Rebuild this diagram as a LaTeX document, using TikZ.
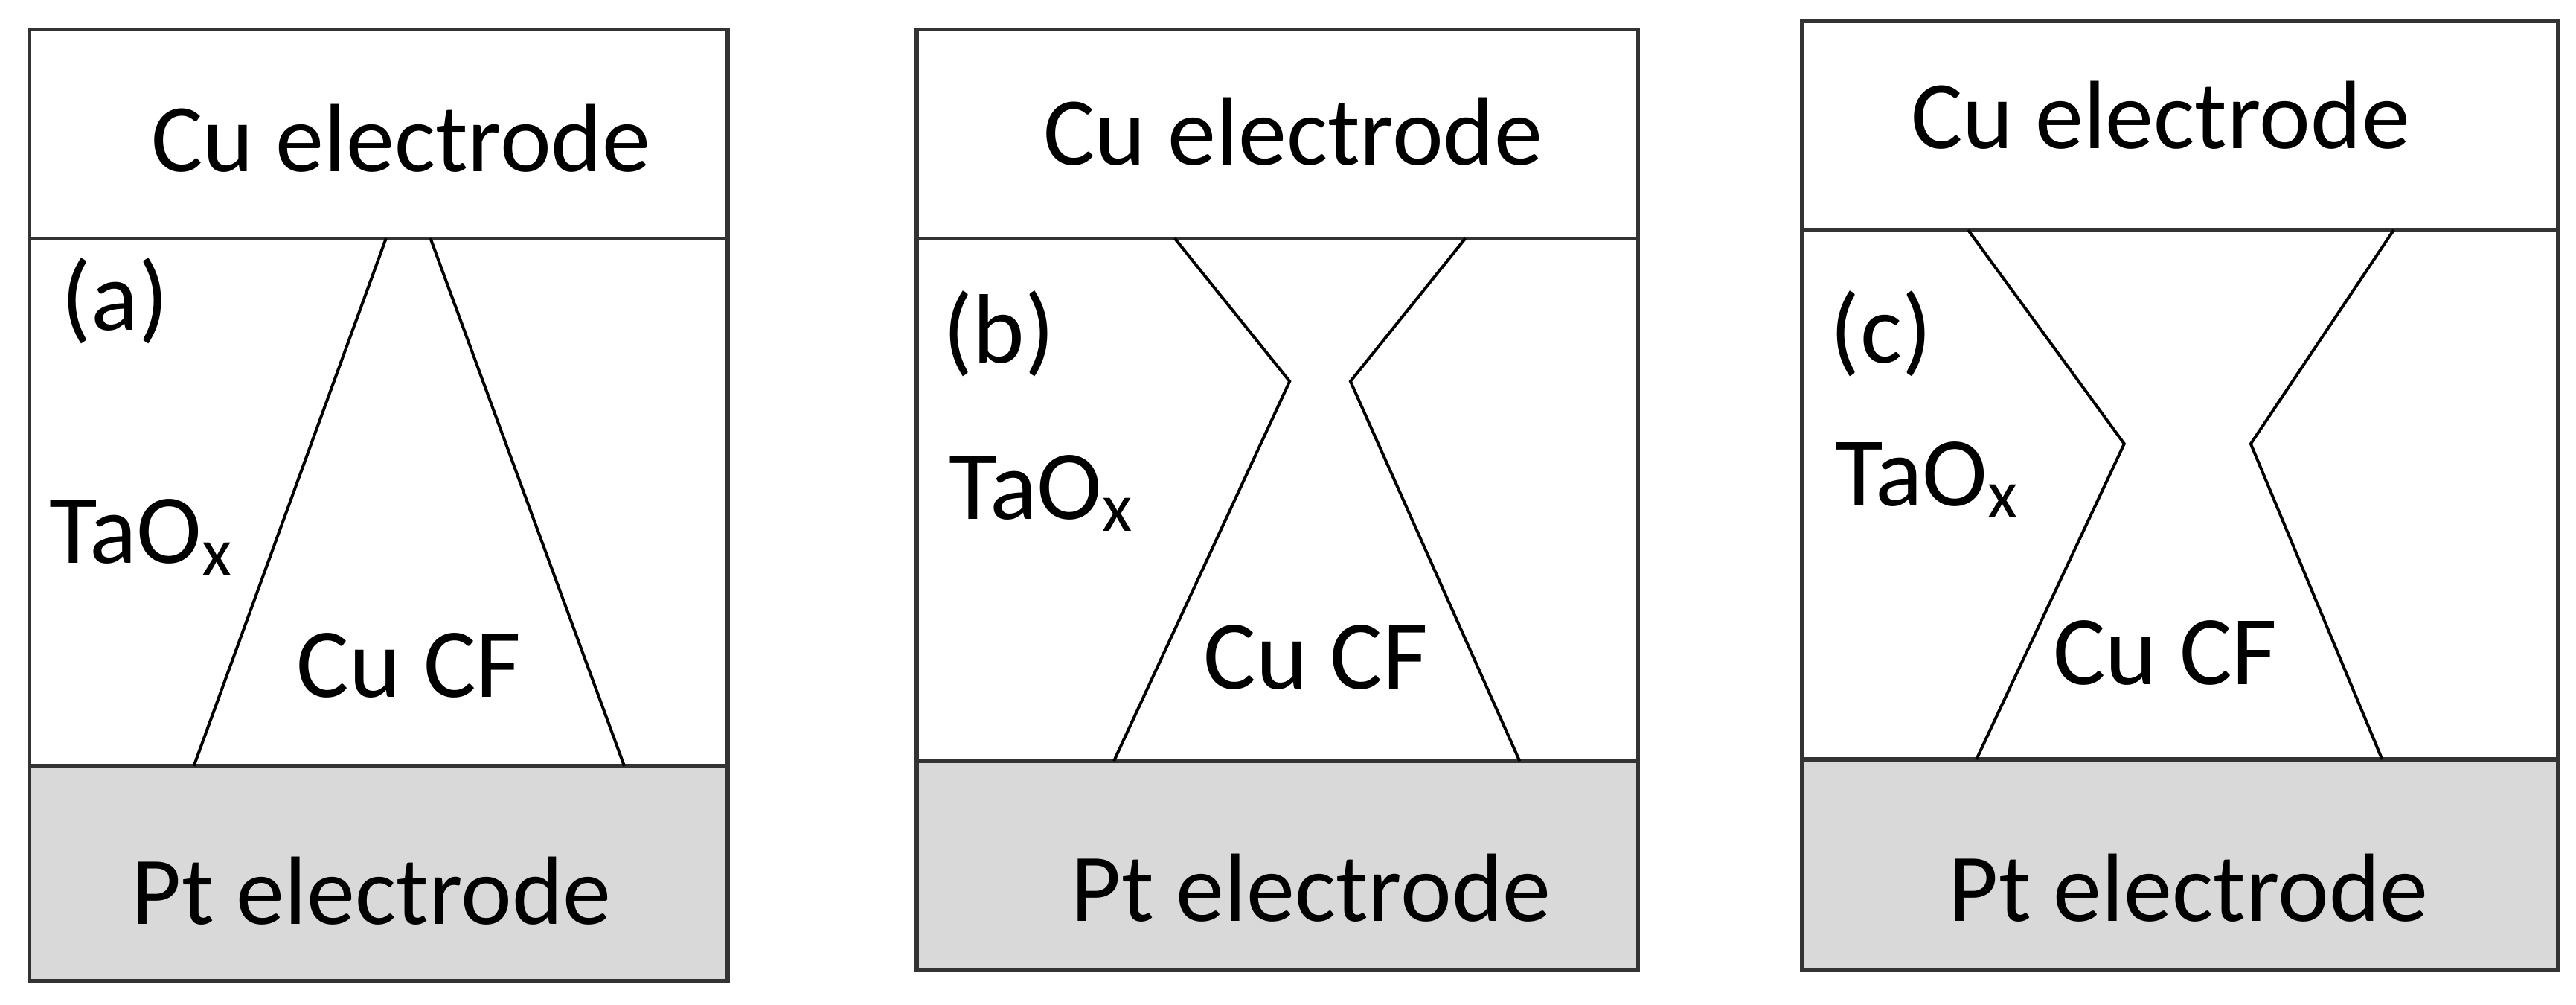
\documentclass[tikz,border=0pt]{standalone}
\usepackage{fontspec}
\setmainfont{Carlito}
\begin{document}
\begin{tikzpicture}[x=0.5pt,y=-0.5pt,
  box/.style={draw=black!80,line width=1.2pt},
  fil/.style={draw=black,line width=0.9pt},
  lbl/.style={font=\fontsize{29.5}{34}\selectfont,inner sep=0pt},
  tl/.style={font=\fontsize{30}{35}\selectfont,inner sep=0pt}]
\useasboundingbox (0,0) rectangle (1568,611);
% panel a
\fill[gray!30] (18,466) rectangle (443,597);
\draw[box] (18,18) rectangle (443,597);
\draw[box] (18,145) -- (443,145);
\draw[box] (18,466) -- (443,466);
\draw[fil] (118,466) -- (235,145);
\draw[fil] (380,466) -- (262,145);
\node[lbl] (ca) at (244,84) {Cu electrode};
\node[lbl] (pa) at (226,542) {Pt electrode};
\node[tl] (la) at (70,183) {(a)};
\node[tl] (ta) at (86,327) {TaO\textsubscript{x}};
\node[tl] (fa) at (249,405) {Cu CF};
% panel b
\fill[gray!30] (558,463) rectangle (997,590);
\draw[box] (558,18) rectangle (997,590);
\draw[box] (558,145) -- (997,145);
\draw[box] (558,463) -- (997,463);
\draw[fil] (678,463) -- (785,232) -- (715,145);
\draw[fil] (925,463) -- (822,232) -- (892,145);
\node[lbl] (cb) at (787,80) {Cu electrode};
\node[lbl] (pb) at (798,540) {Pt electrode};
\node[tl] (lb) at (608,203) {(b)};
\node[tl] (tb) at (634,300) {TaO\textsubscript{x}};
\node[tl] (fb) at (801,400) {Cu CF};
% panel c
\fill[gray!30] (1097,462) rectangle (1557,590);
\draw[box] (1097,13) rectangle (1557,590);
\draw[box] (1097,140) -- (1557,140);
\draw[box] (1097,462) -- (1557,462);
\draw[fil] (1203,462) -- (1293,270) -- (1198,140);
\draw[fil] (1450,462) -- (1370,270) -- (1457,140);
\node[lbl] (cc) at (1315,70) {Cu electrode};
\node[lbl] (pc) at (1332,540) {Pt electrode};
\node[tl] (lc) at (1145,203) {(c)};
\node[tl] (tc) at (1173,292) {TaO\textsubscript{x}};
\node[tl] (fc) at (1318,397) {Cu CF};
\end{tikzpicture}
\end{document}
